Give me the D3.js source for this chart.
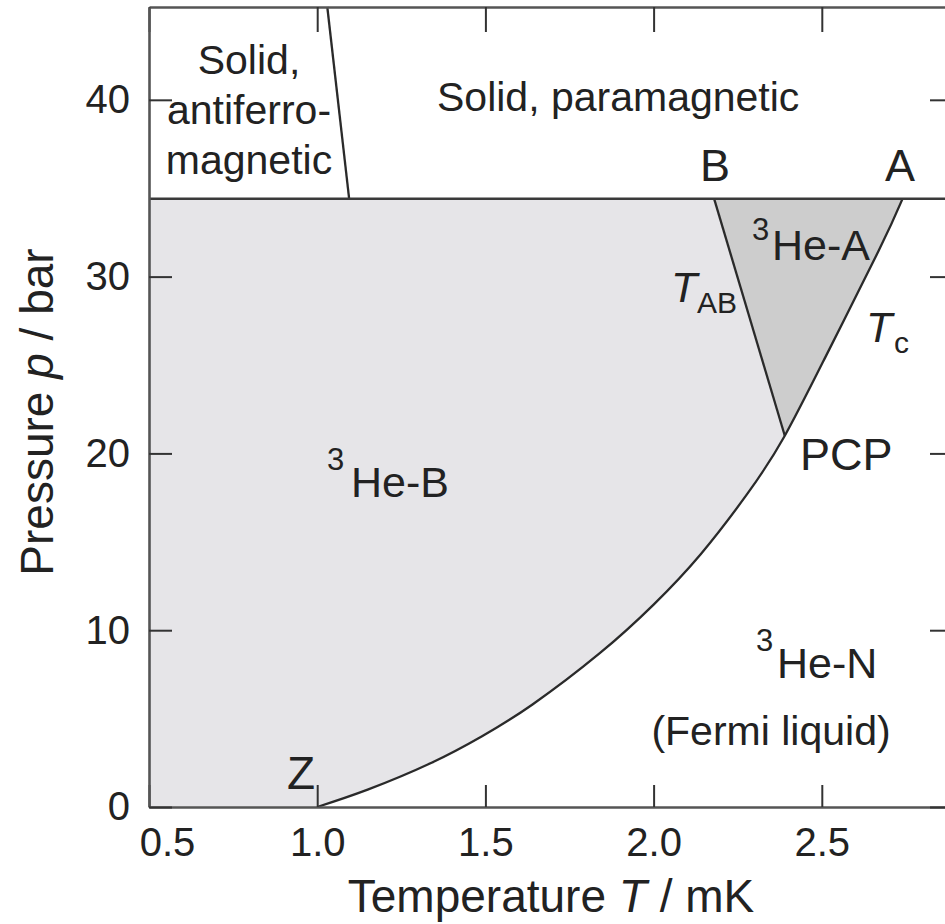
<!DOCTYPE html>
<html>
  <head>
    <script src="https://d3js.org/d3.v7.min.js"></script>
    <title>Phase diagram of 3He</title>
    <style>
      body { margin: 0; background: #fff; }
      text { font-family: "Liberation Sans", Arial, sans-serif; fill: #222; }
    </style>
  </head>
  <body>
    <div id="container"></div>
    <script>
    // axis ticks
    const tempTicks = [0.5, 1.0, 1.5, 2.0, 2.5];
    const pressTicks = [0, 10, 20, 30, 40];

    // superfluid transition line Tc (T in mK, p in bar), from Z up to A
    const tcTemp  = [1.00, 1.15, 1.34, 1.49, 1.64, 1.84, 2.00, 2.14, 2.28, 2.39, 2.52, 2.67, 2.74];
    const tcPress = [0.0, 0.98, 2.5, 4.0, 5.8, 8.7, 11.45, 14.3, 17.75, 21.0, 25.8, 31.5, 34.4];

    // A-B transition line TAB, from B down to PCP
    const abTemp  = [2.18, 2.39];
    const abPress = [34.4, 21.0];

    // antiferro / para boundary in the solid
    const solidTemp  = [1.03, 1.095];
    const solidPress = [45.25, 34.4];

    // melting pressure
    const meltPress = 34.4;

    const w = 945, h = 924;
    const padL = 149, padR = 953, padT = 7, padB = 807;
    const tMin = 0.5, tMax = 2.89, pMax = 45.25;

    const x = d3.scaleLinear().domain([tMin, tMax]).range([padL, padR]);
    const y = d3.scaleLinear().domain([0, pMax]).range([padB, padT]);

    const svg = d3.select('#container')
      .append('svg')
      .attr('width', w)
      .attr('height', h);

    const tc = tcTemp.map((t, i) => [t, tcPress[i]]);
    const ab = abTemp.map((t, i) => [t, abPress[i]]);

    const line = d3.line()
      .x(d => x(d[0]))
      .y(d => y(d[1]))
      .curve(d3.curveNatural);
    const straight = d3.line().x(d => x(d[0])).y(d => y(d[1]));

    // superfluid region: under the melting line, left of Tc
    const superfluid = line(tc) +
      `L${x(abTemp[0])},${y(meltPress)}` +
      `L${x(tMin)},${y(meltPress)}` +
      `L${x(tMin)},${y(0)}Z`;

    svg.append('path')
      .attr('d', superfluid)
      .attr('fill', '#e6e5e8');

    // A phase = superfluid region to the right of TAB
    svg.append('clipPath')
      .attr('id', 'a-phase')
      .append('path')
      .attr('d', straight([ab[0], ab[1], [tMax, abPress[1]], [tMax, meltPress]]) + 'Z');

    svg.append('path')
      .attr('d', superfluid)
      .attr('clip-path', 'url(#a-phase)')
      .attr('fill', '#cdcdcd');

    // phase boundaries
    svg.append('path')
      .attr('d', line(tc))
      .attr('fill', 'none')
      .attr('stroke', '#2a2a2a')
      .attr('stroke-width', 2.3);

    svg.append('path')
      .attr('d', straight(ab))
      .attr('fill', 'none')
      .attr('stroke', '#2a2a2a')
      .attr('stroke-width', 2.3);

    svg.append('path')
      .attr('d', straight(solidTemp.map((t, i) => [t, solidPress[i]])))
      .attr('fill', 'none')
      .attr('stroke', '#2a2a2a')
      .attr('stroke-width', 2.3);

    svg.append('line')
      .attr('x1', x(tMin)).attr('x2', x(tMax))
      .attr('y1', y(meltPress)).attr('y2', y(meltPress))
      .attr('stroke', '#3a3a3a')
      .attr('stroke-width', 2.6);

    // axes, ticks inward
    const fmt = d3.format('.1f');

    const xAxis = svg.append('g')
      .attr('transform', `translate(0,${padB})`)
      .call(d3.axisBottom(x).tickValues(tempTicks).tickFormat(fmt)
        .tickSizeInner(-22).tickSizeOuter(0).tickPadding(21));

    xAxis.selectAll('text').filter(d => d === 0.5).attr('dx', 18);

    svg.append('g')
      .attr('transform', `translate(0,${padT})`)
      .call(d3.axisTop(x).tickValues(tempTicks).tickFormat('')
        .tickSizeInner(-25).tickSizeOuter(0));

    svg.append('g')
      .attr('transform', `translate(${padL},0)`)
      .call(d3.axisLeft(y).tickValues(pressTicks)
        .tickSizeInner(-23).tickSizeOuter(0).tickPadding(19));

    svg.append('g')
      .attr('transform', `translate(${padR},0)`)
      .call(d3.axisRight(y).tickValues(pressTicks).tickFormat('')
        .tickSizeInner(-23).tickSizeOuter(0));

    svg.selectAll('.domain').attr('stroke', '#555').attr('stroke-width', 2.6);
    svg.selectAll('.tick line').attr('stroke', '#333').attr('stroke-width', 2);
    svg.selectAll('.tick text')
      .style('font-family', '"Liberation Sans", Arial, sans-serif')
      .style('font-size', '40px')
      .attr('fill', '#222');

    // axis titles
    const xt = svg.append('text')
      .attr('x', 551).attr('y', 912)
      .attr('text-anchor', 'middle')
      .style('font-size', '46px');
    xt.append('tspan').text('Temperature ');
    xt.append('tspan').style('font-style', 'italic').text('T');
    xt.append('tspan').text(' / mK');

    const yt = svg.append('text')
      .attr('transform', 'translate(53,412) rotate(-90)')
      .attr('text-anchor', 'middle')
      .style('font-size', '46px');
    yt.append('tspan').text('Pressure ');
    yt.append('tspan').style('font-style', 'italic').text('p');
    yt.append('tspan').text(' / bar');

    // region labels
    const label = (tx, ty, s, size, anchor) =>
      svg.append('text')
        .attr('x', tx).attr('y', ty)
        .attr('text-anchor', anchor || 'start')
        .style('font-size', size + 'px')
        .text(s);

    label(249, 74, 'Solid,', 41, 'middle');
    label(249, 124, 'antiferro-', 41, 'middle');
    label(249, 174, 'magnetic', 41, 'middle');
    label(437, 111, 'Solid, paramagnetic', 41);
    label(715, 181, 'B', 45, 'middle');
    label(900, 181, 'A', 45, 'middle');
    label(800, 470, 'PCP', 45);
    label(287, 789, 'Z', 46);
    label(771, 745, '(Fermi liquid)', 41, 'middle');

    // 3He-X labels with superscript mass number
    const helium = (sx, sy, hx, hy, s) => {
      label(sx, sy, '3', 31);
      label(hx, hy, s, 43);
    };
    helium(752, 240, 772, 260, 'He-A');
    helium(327, 470, 351, 497, 'He-B');
    helium(756, 651, 777, 678, 'He-N');

    // T with subscripts
    const tsub = (tx, ty, sx, sy, sub) => {
      svg.append('text').attr('x', tx).attr('y', ty)
        .style('font-size', '43px').style('font-style', 'italic').text('T');
      label(sx, sy, sub, 30);
    };
    tsub(671, 302, 697, 313, 'AB');
    tsub(866, 342, 894, 353, 'c');
    </script>
  </body>
</html>
